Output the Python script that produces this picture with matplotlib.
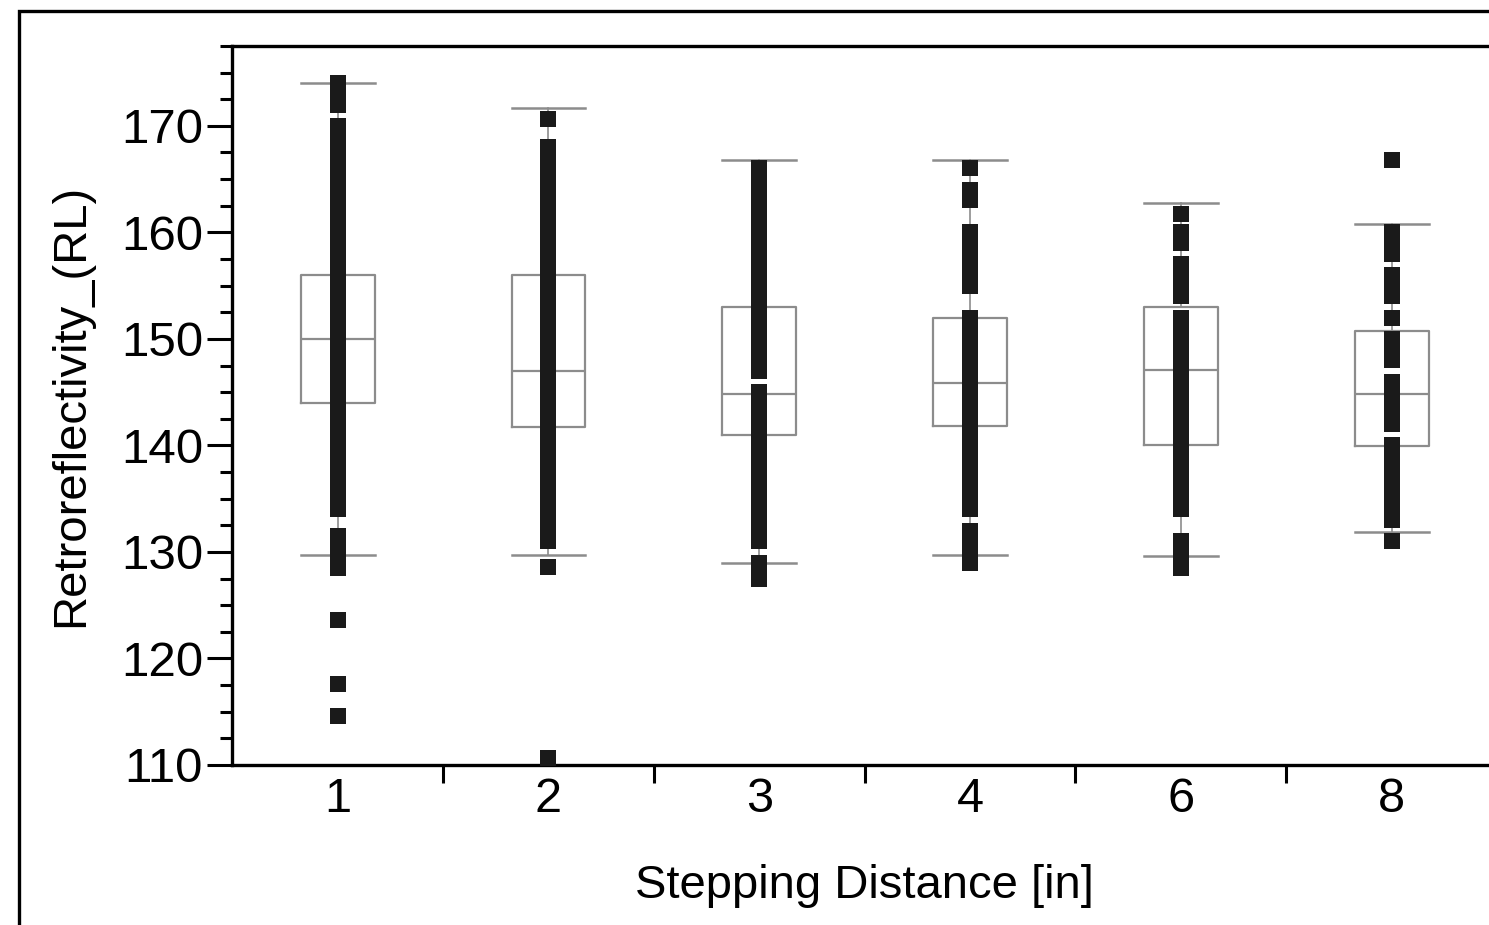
#!/usr/bin/env python3
"""Box plots of retroreflectivity by stepping distance, with the readings overlaid."""
import matplotlib
matplotlib.use('Agg')
import matplotlib.pyplot as plt
from matplotlib.patches import Rectangle
from matplotlib.ticker import MultipleLocator, FixedLocator

plt.rcParams['font.family'] = ['Liberation Sans', 'DejaVu Sans']

categories = ['1', '2', '3', '4', '6', '8']

# box statistics: q1, median, q3, lower / upper whisker
q1 = [144.0, 141.7, 141.0, 141.8, 140.0, 139.9]
med = [150.0, 147.0, 144.8, 145.9, 147.1, 144.8]
q3 = [156.0, 156.0, 153.0, 152.0, 153.0, 150.7]
whislo = [129.7, 129.7, 129.0, 129.7, 129.6, 131.9]
whishi = [174.0, 171.7, 166.8, 166.8, 162.8, 160.8]

# distinct readings in each group
pts_1 = [174, 173, 172,
         170, 169, 168, 167, 166, 165, 164, 163, 162, 161, 160, 159, 158,
         157, 156, 155, 154, 153, 152, 151, 150, 149, 148, 147, 146, 145,
         144, 143, 142, 141, 140, 139, 138, 137, 136, 135, 134,
         131.5, 130.5, 129.5, 128.5, 123.6, 117.6, 114.6]
pts_2 = [170.6,
         168, 167, 166, 165, 164, 163, 162, 161, 160, 159, 158, 157, 156,
         155, 154, 153, 152, 151, 150, 149, 148, 147, 146, 145, 144, 143,
         142, 141, 140, 139, 138, 137, 136, 135, 134, 133, 132, 131,
         128.6, 110.7]
pts_3 = [166, 165, 164, 163, 162, 161, 160, 159, 158, 157, 156, 155, 154,
         153, 152, 151, 150, 149, 148, 147,
         145, 144, 143, 142, 141, 140, 139, 138, 137, 136, 135, 134, 133,
         132, 131,
         129, 127.5]
pts_4 = [166, 164, 163, 160, 159, 158, 157, 156, 155,
         152, 151, 150, 149, 148, 147, 146, 145, 144, 143, 142, 141, 140,
         139, 138, 137, 136, 135, 134,
         132, 131, 130, 129]
pts_6 = [161.7, 160, 159, 157, 156, 155, 154,
         152, 151, 150, 149, 148, 147, 146, 145, 144, 143, 142, 141, 140,
         139, 138, 137, 136, 135, 134,
         131, 130, 129, 128.5]
pts_8 = [166.8, 160, 159, 158, 156, 155, 154, 152, 150, 149, 148,
         146, 145, 144, 143, 142,
         140, 139, 138, 137, 136, 135, 134, 133, 131]
points = [pts_1, pts_2, pts_3, pts_4, pts_6, pts_8]

fig = plt.figure(figsize=(14.89, 9.25), dpi=100)
ax = fig.add_axes([0.156, 0.173, 0.8494, 0.7773])

stats = []
for i, name in enumerate(categories):
    stats.append({'label': name, 'q1': q1[i], 'med': med[i], 'q3': q3[i],
                  'whislo': whislo[i], 'whishi': whishi[i], 'fliers': []})

grey = '#8c8c8c'
ax.bxp(stats, positions=range(len(categories)), widths=0.35,
       capwidths=0.35, showfliers=False, patch_artist=False,
       boxprops=dict(color=grey, linewidth=1.6),
       medianprops=dict(color=grey, linewidth=1.6),
       whiskerprops=dict(color=grey, linewidth=1.2),
       capprops=dict(color=grey, linewidth=1.8),
       zorder=2)

# readings as black squares over the boxes
for i, vals in enumerate(points):
    ax.plot([i] * len(vals), vals, 's', color='#1a1a1a', markersize=11.2,
            markeredgewidth=0, zorder=3, clip_on=False)

ax.set_xlim(-0.5, 5.5)
ax.set_ylim(110, 177.5)

ax.yaxis.set_major_locator(MultipleLocator(10))
ax.yaxis.set_minor_locator(MultipleLocator(2.5))
ax.tick_params(axis='y', which='major', length=18, width=2.2, pad=3,
               labelsize=35.5, direction='out')
ax.tick_params(axis='y', which='minor', length=9, width=2.2, direction='out')

ax.xaxis.set_major_locator(FixedLocator(range(len(categories))))
ax.set_xticklabels(categories)
ax.xaxis.set_minor_locator(FixedLocator([0.5, 1.5, 2.5, 3.5, 4.5]))
ax.tick_params(axis='x', which='major', length=0, pad=9, labelsize=35)
ax.tick_params(axis='x', which='minor', length=13, width=2.2, direction='out')

for side in ['left', 'bottom', 'top', 'right']:
    ax.spines[side].set_linewidth(2.4)

ax.set_ylabel('Retroreflectivity_(RL)', fontsize=34)
ax.yaxis.set_label_coords(-0.11, 0.5)
ax.set_xlabel('Stepping Distance [in]', fontsize=34)
ax.xaxis.set_label_coords(0.5, -0.138)

# outer frame around the whole graphic
frame = Rectangle((18.5 / 1489, -0.1), 1.2, 1.1 - 10.5 / 925,
                  transform=fig.transFigure, fill=False, edgecolor='black',
                  linewidth=2.4, clip_on=False)
fig.patches.append(frame)

fig.savefig('out.png', dpi=100)
